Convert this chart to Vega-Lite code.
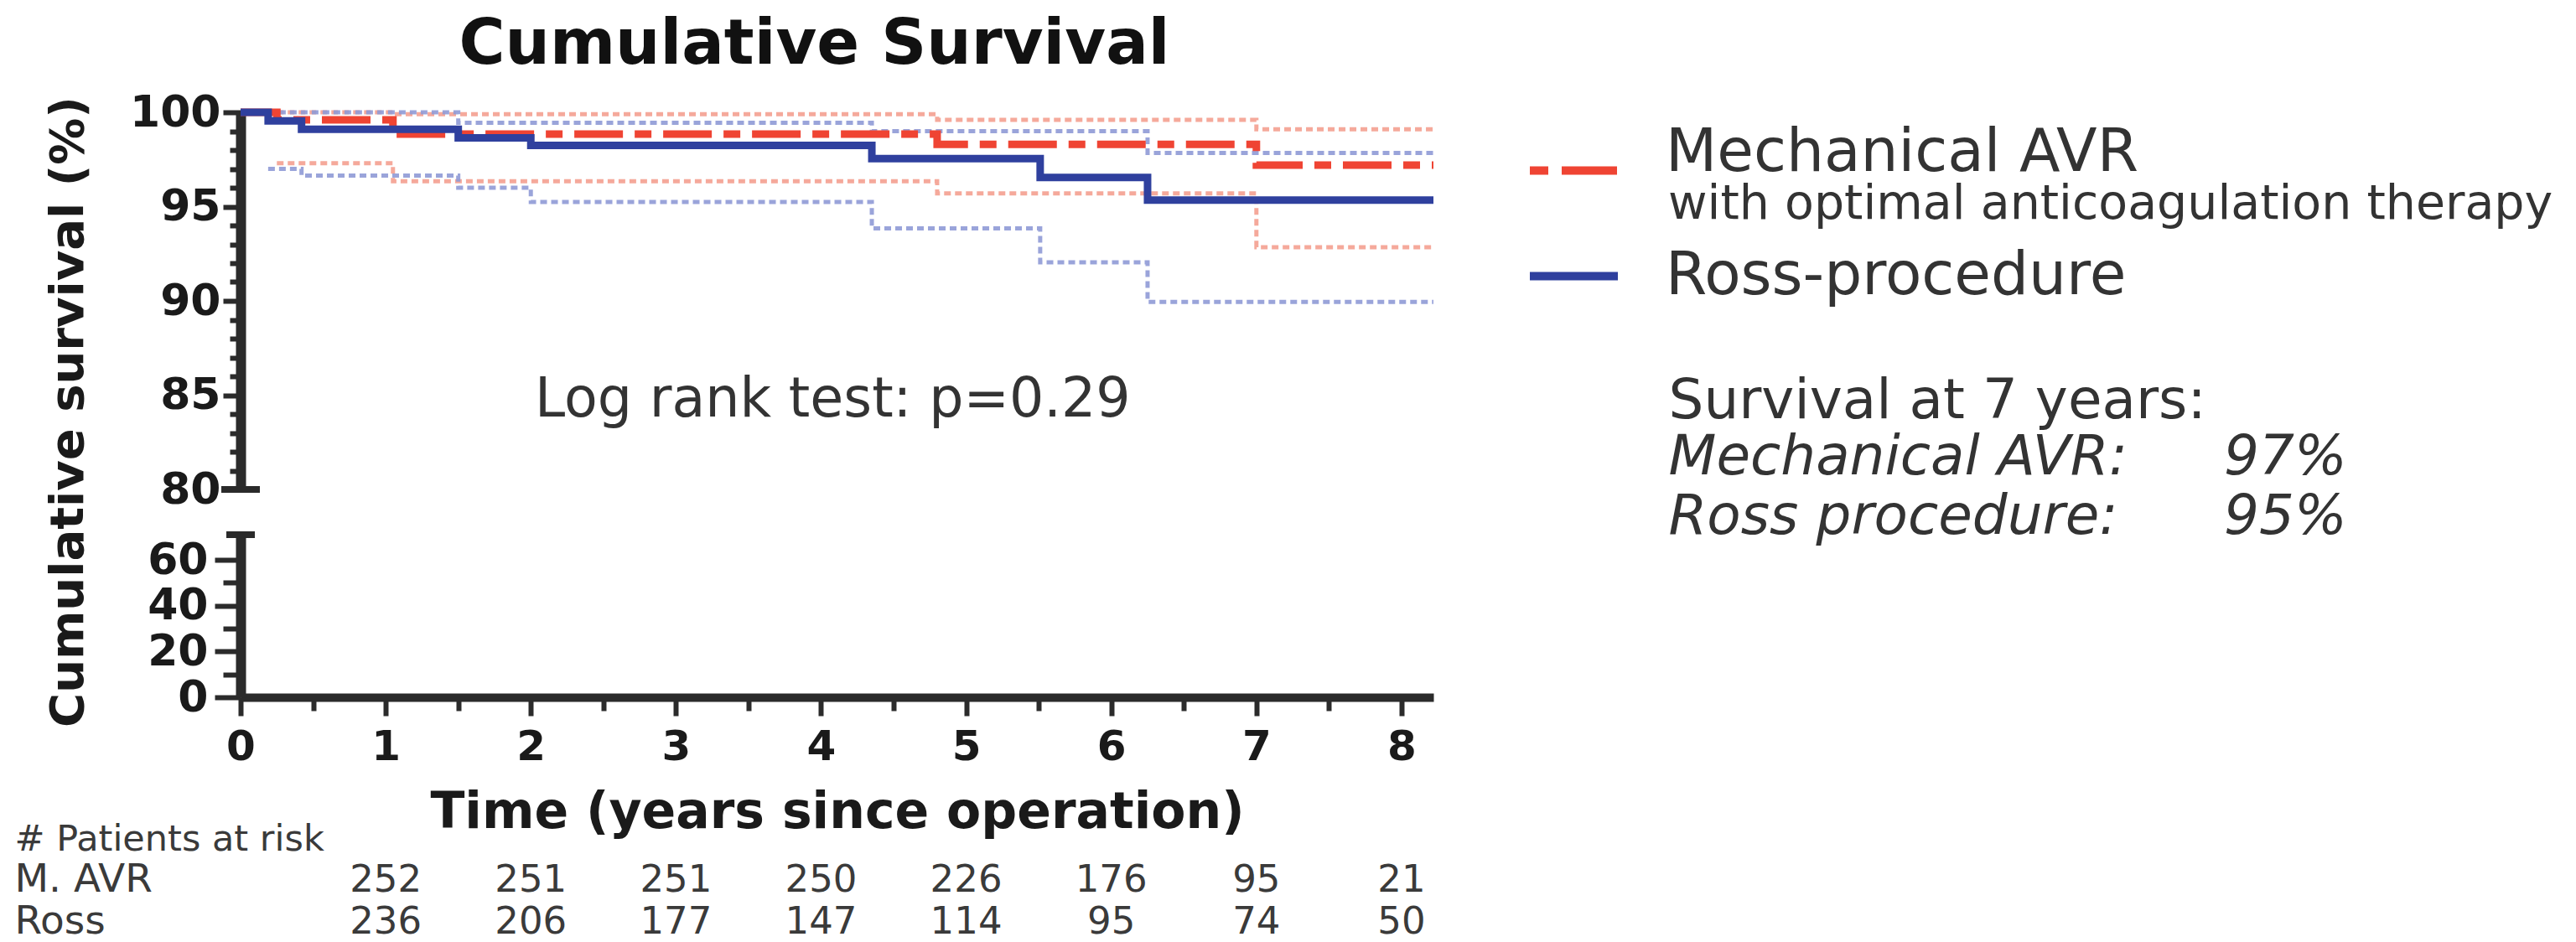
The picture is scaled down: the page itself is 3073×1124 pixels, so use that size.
{
  "$schema": "https://vega.github.io/schema/vega-lite/v6.json",
  "background": "white",
  "padding": {"left": 17, "top": 16, "right": 0, "bottom": 0},
  "config": {
    "font": "DejaVu Sans",
    "view": {"stroke": null},
    "axis": {
      "grid": false,
      "labelFont": "DejaVu Sans",
      "titleFont": "DejaVu Sans",
      "domainColor": "#2b2b2b",
      "tickColor": "#2b2b2b",
      "labelColor": "#1a1a1a",
      "titleColor": "#1a1a1a",
      "labelFlush": false,
      "labelOverlap": false
    },
    "legend": {"labelFont": "DejaVu Sans", "titleFont": "DejaVu Sans"},
    "title": {"font": "DejaVu Sans"}
  },
  "datasets": {
    "km": [
      {"procedure": "Mechanical AVR", "curve": "estimate", "t": 0, "s": 100},
      {"procedure": "Mechanical AVR", "curve": "estimate", "t": 0.25, "s": 99.6},
      {"procedure": "Mechanical AVR", "curve": "estimate", "t": 1.05, "s": 98.85},
      {"procedure": "Mechanical AVR", "curve": "estimate", "t": 4.8, "s": 98.3},
      {"procedure": "Mechanical AVR", "curve": "estimate", "t": 7.0, "s": 97.2},
      {"procedure": "Mechanical AVR", "curve": "estimate", "t": 8.22, "s": 97.2},
      {"procedure": "Mechanical AVR", "curve": "lower", "t": 0.25, "s": 97.3},
      {"procedure": "Mechanical AVR", "curve": "lower", "t": 1.05, "s": 96.35},
      {"procedure": "Mechanical AVR", "curve": "lower", "t": 4.8, "s": 95.7},
      {"procedure": "Mechanical AVR", "curve": "lower", "t": 7.0, "s": 92.85},
      {"procedure": "Mechanical AVR", "curve": "lower", "t": 8.22, "s": 92.85},
      {"procedure": "Mechanical AVR", "curve": "upper", "t": 0.25, "s": 100},
      {"procedure": "Mechanical AVR", "curve": "upper", "t": 1.05, "s": 99.9},
      {"procedure": "Mechanical AVR", "curve": "upper", "t": 4.8, "s": 99.6},
      {"procedure": "Mechanical AVR", "curve": "upper", "t": 7.0, "s": 99.1},
      {"procedure": "Mechanical AVR", "curve": "upper", "t": 8.22, "s": 99.1},
      {"procedure": "Ross-procedure", "curve": "estimate", "t": 0, "s": 100},
      {"procedure": "Ross-procedure", "curve": "estimate", "t": 0.19, "s": 99.55},
      {"procedure": "Ross-procedure", "curve": "estimate", "t": 0.42, "s": 99.1},
      {"procedure": "Ross-procedure", "curve": "estimate", "t": 1.5, "s": 98.65},
      {"procedure": "Ross-procedure", "curve": "estimate", "t": 2.0, "s": 98.25},
      {"procedure": "Ross-procedure", "curve": "estimate", "t": 4.35, "s": 97.55},
      {"procedure": "Ross-procedure", "curve": "estimate", "t": 5.51, "s": 96.55},
      {"procedure": "Ross-procedure", "curve": "estimate", "t": 6.25, "s": 95.35},
      {"procedure": "Ross-procedure", "curve": "estimate", "t": 8.22, "s": 95.35},
      {"procedure": "Ross-procedure", "curve": "lower", "t": 0.19, "s": 97.0},
      {"procedure": "Ross-procedure", "curve": "lower", "t": 0.42, "s": 96.65},
      {"procedure": "Ross-procedure", "curve": "lower", "t": 1.5, "s": 96.0},
      {"procedure": "Ross-procedure", "curve": "lower", "t": 2.0, "s": 95.25},
      {"procedure": "Ross-procedure", "curve": "lower", "t": 4.35, "s": 93.85},
      {"procedure": "Ross-procedure", "curve": "lower", "t": 5.51, "s": 92.05},
      {"procedure": "Ross-procedure", "curve": "lower", "t": 6.25, "s": 89.95},
      {"procedure": "Ross-procedure", "curve": "lower", "t": 8.22, "s": 89.95},
      {"procedure": "Ross-procedure", "curve": "upper", "t": 0.19, "s": 100},
      {"procedure": "Ross-procedure", "curve": "upper", "t": 1.5, "s": 99.45},
      {"procedure": "Ross-procedure", "curve": "upper", "t": 4.35, "s": 99.0},
      {"procedure": "Ross-procedure", "curve": "upper", "t": 6.25, "s": 97.85},
      {"procedure": "Ross-procedure", "curve": "upper", "t": 8.22, "s": 97.85}
    ],
    "risk": [
      {"group": "M. AVR", "year": 0, "n": 252},
      {"group": "M. AVR", "year": 1, "n": 251},
      {"group": "M. AVR", "year": 2, "n": 251},
      {"group": "M. AVR", "year": 3, "n": 250},
      {"group": "M. AVR", "year": 4, "n": 226},
      {"group": "M. AVR", "year": 5, "n": 176},
      {"group": "M. AVR", "year": 6, "n": 95},
      {"group": "M. AVR", "year": 7, "n": 21},
      {"group": "Ross", "year": 0, "n": 236},
      {"group": "Ross", "year": 1, "n": 206},
      {"group": "Ross", "year": 2, "n": 177},
      {"group": "Ross", "year": 3, "n": 147},
      {"group": "Ross", "year": 4, "n": 114},
      {"group": "Ross", "year": 5, "n": 95},
      {"group": "Ross", "year": 6, "n": 74},
      {"group": "Ross", "year": 7, "n": 50}
    ],
    "surv7": [
      {"procedure": "Mechanical AVR", "survival7": 0.97},
      {"procedure": "Ross procedure", "survival7": 0.95}
    ]
  },
  "hconcat": [
    {
      "vconcat": [
        {
          "width": 1423,
          "height": 450,
          "title": {
            "text": "Cumulative Survival",
            "fontSize": 75,
            "fontWeight": "bold",
            "color": "#111111",
            "anchor": "middle",
            "frame": "group",
            "dx": -27,
            "offset": 16
          },
          "data": {"name": "km"},
          "encoding": {
            "x": {
              "field": "t",
              "type": "quantitative",
              "scale": {"domain": [0, 8.22], "nice": false, "zero": false},
              "axis": null
            },
            "y": {
              "field": "s",
              "type": "quantitative",
              "scale": {"domain": [80, 100], "nice": false, "zero": false},
              "axis": {
                "values": [80, 81, 82, 83, 84, 85, 86, 87, 88, 89, 90, 91, 92, 93, 94, 95, 96, 97, 98, 99, 100],
                "labelExpr": "datum.value % 5 === 0 ? datum.label : ''",
                "tickSize": {"condition": {"test": "datum.value % 5 === 0", "value": 21}, "value": 13},
                "tickWidth": 6,
                "domainWidth": 12,
                "labelFontSize": 52,
                "labelFontWeight": "bold",
                "labelPadding": 3,
                "title": "Cumulative survival (%)",
                "titleFontSize": 56,
                "titleFontWeight": "bold",
                "titleAngle": -90,
                "titleAlign": "center",
                "titleBaseline": "middle",
                "titleX": -206,
                "titleY": 357
              }
            }
          },
          "layer": [
            {
              "transform": [{"filter": "datum.procedure === 'Mechanical AVR' && datum.curve !== 'estimate'"}],
              "mark": {"type": "line", "interpolate": "step-after", "strokeWidth": 5, "strokeDash": [8, 5], "color": "#f4a090", "opacity": 0.9},
              "encoding": {"detail": {"field": "curve"}}
            },
            {
              "transform": [{"filter": "datum.procedure === 'Ross-procedure' && datum.curve !== 'estimate'"}],
              "mark": {"type": "line", "interpolate": "step-after", "strokeWidth": 5, "strokeDash": [8, 5], "color": "#8f9ad6", "opacity": 0.9},
              "encoding": {"detail": {"field": "curve"}}
            },
            {
              "transform": [{"filter": "datum.procedure === 'Mechanical AVR' && datum.curve === 'estimate'"}],
              "mark": {"type": "line", "interpolate": "step-after", "strokeWidth": 9, "strokeDash": [58, 14, 20, 14]},
              "encoding": {
                "color": {
                  "field": "procedure",
                  "type": "nominal",
                  "scale": {"domain": ["Mechanical AVR", "Ross-procedure"], "range": ["#ef4433", "#2f409e"]},
                  "legend": {
                    "values": ["Mechanical AVR"],
                    "orient": "none",
                    "legendX": 1703,
                    "legendY": 12,
                    "padding": 0,
                    "title": "with optimal anticoagulation therapy",
                    "titleOrient": "bottom",
                    "titleAnchor": "start",
                    "titleFontSize": 57,
                    "titleFontWeight": "normal",
                    "titleColor": "#333333",
                    "titleLimit": 2000,
                    "titlePadding": -8,
                    "symbolType": "stroke",
                    "symbolSize": 11025,
                    "symbolStrokeWidth": 10,
                    "symbolDash": [22, 16, 66, 14],
                    "symbolOffset": -170,
                    "labelOffset": 52,
                    "labelFontSize": 71,
                    "labelColor": "#333333",
                    "labelLimit": 2000,
                    "labelBaseline": "alphabetic"
                  }
                }
              }
            },
            {
              "transform": [{"filter": "datum.procedure === 'Ross-procedure' && datum.curve === 'estimate'"}],
              "mark": {"type": "line", "interpolate": "step-after", "strokeWidth": 9},
              "encoding": {
                "color": {
                  "field": "procedure",
                  "type": "nominal",
                  "scale": {"domain": ["Mechanical AVR", "Ross-procedure"], "range": ["#ef4433", "#2f409e"]},
                  "legend": {
                    "values": ["Ross-procedure"],
                    "orient": "none",
                    "legendX": 1703,
                    "legendY": 138,
                    "padding": 0,
                    "title": null,
                    "symbolType": "stroke",
                    "symbolSize": 11025,
                    "symbolStrokeWidth": 10,
                    "symbolOffset": -170,
                    "labelOffset": 52,
                    "labelFontSize": 71,
                    "labelColor": "#333333",
                    "labelLimit": 2000
                  }
                }
              }
            },
            {
              "mark": {"type": "tick", "orient": "horizontal", "size": 46, "thickness": 7, "color": "#2b2b2b"},
              "encoding": {"x": {"datum": 0}, "y": {"datum": 80}}
            },
            {
              "transform": [
                {"filter": "datum.procedure === 'Mechanical AVR' && datum.curve === 'estimate' && datum.t === 0"},
                {"calculate": "'Log rank test: p=0.29'", "as": "label"}
              ],
              "mark": {"type": "text", "fontSize": 65, "color": "#333333", "align": "center", "baseline": "middle"},
              "encoding": {
                "x": {"datum": 4.08},
                "y": {"datum": 84.76},
                "text": {"field": "label", "type": "nominal"}
              }
            }
          ],
          "resolve": {"legend": {"color": "independent"}}
        },
        {
          "width": 1423,
          "height": 194,
          "data": {"name": "km"},
          "encoding": {
            "x": {
              "field": "t",
              "type": "quantitative",
              "scale": {"domain": [0, 8.22], "nice": false, "zero": false},
              "axis": {
                "values": [0, 0.5, 1, 1.5, 2, 2.5, 3, 3.5, 4, 4.5, 5, 5.5, 6, 6.5, 7, 7.5, 8],
                "labelExpr": "datum.value % 1 === 0 ? format(datum.value, 'd') : ''",
                "tickSize": {"condition": {"test": "datum.value % 1 === 0", "value": 22}, "value": 16},
                "tickWidth": 6,
                "domainWidth": 10,
                "labelFontSize": 50,
                "labelFontWeight": "bold",
                "labelPadding": 12,
                "title": "Time (years since operation)",
                "titleFontSize": 60,
                "titleFontWeight": "bold",
                "titlePadding": 24
              }
            },
            "y": {
              "field": "s",
              "type": "quantitative",
              "scale": {"domain": [0, 71], "nice": false, "zero": false},
              "axis": {
                "values": [0, 10, 20, 30, 40, 50, 60],
                "labelExpr": "datum.value % 20 === 0 ? datum.label : ''",
                "tickSize": {"condition": {"test": "datum.value % 20 === 0", "value": 31}, "value": 21},
                "tickWidth": 6,
                "domainWidth": 12,
                "labelFontSize": 52,
                "labelFontWeight": "bold",
                "labelPadding": 8,
                "title": null
              }
            }
          },
          "layer": [
            {
              "mark": {"type": "line", "interpolate": "step-after", "clip": true, "color": "#888888"},
              "encoding": {"detail": [{"field": "procedure"}, {"field": "curve"}]}
            },
            {
              "mark": {"type": "tick", "orient": "horizontal", "size": 34, "thickness": 7, "color": "#2b2b2b"},
              "encoding": {"x": {"datum": 0}, "y": {"datum": 71}}
            }
          ]
        },
        {
          "width": 1423,
          "height": 239,
          "data": {"name": "risk"},
          "mark": {"type": "text", "fontSize": 45, "color": "#3a3a3a"},
          "encoding": {
            "x": {
              "field": "year",
              "type": "quantitative",
              "scale": {"domain": [-1, 7.22], "nice": false, "zero": false},
              "axis": null
            },
            "y": {
              "field": "group",
              "type": "nominal",
              "sort": ["M. AVR", "Ross"],
              "scale": {"type": "band", "paddingInner": 0, "paddingOuter": 0, "range": [139, 239]},
              "axis": {
                "ticks": false,
                "tickSize": 0,
                "domain": false,
                "labelAlign": "left",
                "labelPadding": 270,
                "labelFontSize": 47,
                "labelColor": "#3a3a3a",
                "title": "# Patients at risk",
                "titleAngle": 0,
                "titleAlign": "left",
                "titleBaseline": "alphabetic",
                "titleX": -270,
                "titleY": 128,
                "titleFontSize": 43,
                "titleFontWeight": "normal",
                "titleColor": "#3a3a3a"
              }
            },
            "text": {"field": "n", "type": "quantitative"}
          }
        }
      ],
      "spacing": 54,
      "bounds": "flush",
      "resolve": {"scale": {"x": "independent", "y": "independent", "color": "independent"}}
    },
    {
      "width": 400,
      "height": 518.5,
      "data": {"name": "surv7"},
      "mark": {"type": "text", "align": "left", "fontSize": 66, "fontStyle": "italic", "color": "#333333"},
      "encoding": {
        "y": {
          "field": "procedure",
          "type": "nominal",
          "sort": ["Mechanical AVR", "Ross procedure"],
          "scale": {"type": "band", "paddingInner": 0, "paddingOuter": 0, "range": [376.5, 518.5]},
          "axis": {
            "ticks": false,
            "tickSize": 0,
            "domain": false,
            "labelAlign": "left",
            "labelPadding": 463,
            "labelFontSize": 66,
            "labelFontStyle": "italic",
            "labelColor": "#333333",
            "labelLimit": 2000,
            "labelExpr": "datum.label + ':'",
            "title": "Survival at 7 years:",
            "titleAngle": 0,
            "titleAlign": "left",
            "titleBaseline": "alphabetic",
            "titleX": -463,
            "titleY": 364,
            "titleFontSize": 66,
            "titleFontWeight": "normal",
            "titleColor": "#333333"
          }
        },
        "text": {"field": "survival7", "type": "quantitative", "format": ".0%"}
      }
    }
  ],
  "spacing": 2166,
  "bounds": "flush"
}
